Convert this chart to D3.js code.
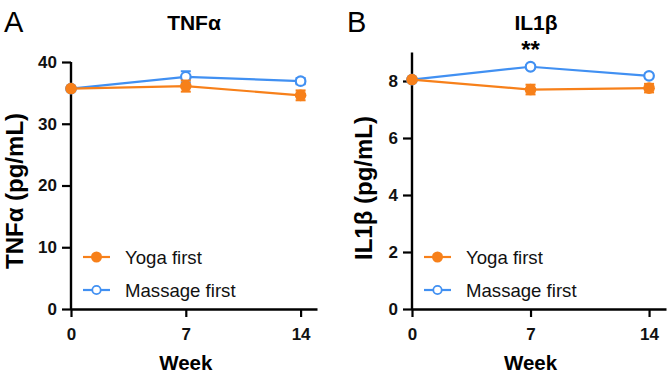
<!DOCTYPE html>
<html>
<head>
<meta charset="utf-8">
<script src="https://cdn.jsdelivr.net/npm/d3@7"></script>
<style>
  body { margin: 0; background: #fff; }
  svg { font-family: "Liberation Sans", Arial, sans-serif; }
</style>
</head>
<body>
<div id="chart"></div>
<script>
// data
var weeks = [0, 7, 14];
var seriesNames = ["Yoga first", "Massage first"];
var tnfYoga = [35.7, 36.1, 34.6];
var tnfYogaErr = [0.3, 0.9, 0.8];
var tnfMassage = [35.7, 37.6, 36.9];
var tnfMassageErr = [0.3, 0.9, 0.5];
var ilYoga = [8.05, 7.7, 7.75];
var ilYogaErr = [0.05, 0.17, 0.15];
var ilMassage = [8.05, 8.5, 8.18];
var ilMassageErr = [0.05, 0.06, 0.08];
var tnfTicks = [0, 10, 20, 30, 40];
var ilTicks = [0, 2, 4, 6, 8];

var orange = "#f7801a";
var blue = "#4190f2";

var svg = d3.select("#chart").append("svg")
  .attr("width", 668)
  .attr("height", 375);

function drawPanel(opt) {
  var x = d3.scaleLinear().domain([0, 15]).range([opt.left, opt.right]);
  var y = d3.scaleLinear().domain(opt.yDomain).range([309, opt.yTop]);
  var g = svg.append("g");

  // y axis
  g.append("g")
    .attr("transform", "translate(" + opt.left + ",0)")
    .call(d3.axisLeft(y).tickValues(opt.yTicks).tickSize(9).tickSizeOuter(0))
    .call(function(a) {
      a.select(".domain").attr("stroke-width", 2.4).attr("d", "M0," + y(opt.yDomain[1]) + "V" + y(0));
      a.selectAll(".tick line").attr("stroke-width", 2.2);
      a.selectAll(".tick text").attr("font-size", 17).attr("font-weight", "bold").attr("x", -14).attr("fill", "#111");
    });

  // x axis
  g.append("g")
    .attr("transform", "translate(0,309)")
    .call(d3.axisBottom(x).tickValues(weeks).tickSize(8).tickSizeOuter(0))
    .call(function(a) {
      a.select(".domain").attr("stroke-width", 2.4);
      a.selectAll(".tick line").attr("stroke-width", 2.2);
      a.selectAll(".tick text").attr("font-size", 17).attr("font-weight", "bold").attr("y", 19).attr("fill", "#111");
    });

  var series = [
    { vals: opt.yoga, err: opt.yogaErr, color: orange, open: false },
    { vals: opt.massage, err: opt.massageErr, color: blue, open: true }
  ];

  var line = d3.line().x(function(d) { return x(d.w); }).y(function(d) { return y(d.v); });

  // massage drawn first so yoga sits on top at week 0
  [series[1], series[0]].forEach(function(s) {
    var pts = weeks.map(function(w, i) { return { w: w, v: s.vals[i], e: s.err[i] }; });
    g.append("path")
      .datum(pts)
      .attr("d", line)
      .attr("fill", "none")
      .attr("stroke", s.color)
      .attr("stroke-width", 2.2);
    var eb = g.selectAll(null).data(pts).enter().append("g");
    eb.append("line")
      .attr("x1", function(d) { return x(d.w); })
      .attr("x2", function(d) { return x(d.w); })
      .attr("y1", function(d) { return y(d.v - d.e); })
      .attr("y2", function(d) { return y(d.v + d.e); })
      .attr("stroke", s.color).attr("stroke-width", 2);
    [-1, 1].forEach(function(sg) {
      eb.append("line")
        .attr("x1", function(d) { return x(d.w) - 5; })
        .attr("x2", function(d) { return x(d.w) + 5; })
        .attr("y1", function(d) { return y(d.v + sg * d.e); })
        .attr("y2", function(d) { return y(d.v + sg * d.e); })
        .attr("stroke", s.color).attr("stroke-width", 2);
    });
    g.selectAll(null).data(pts).enter().append("circle")
      .attr("cx", function(d) { return x(d.w); })
      .attr("cy", function(d) { return y(d.v); })
      .attr("r", s.open ? 4.8 : 5.8)
      .attr("fill", s.open ? "#fff" : s.color)
      .attr("stroke", s.color)
      .attr("stroke-width", s.open ? 2.2 : 0);
  });

  // legend
  seriesNames.forEach(function(name, i) {
    var ly = 257 + i * 33;
    var lx = opt.left + 12;
    g.append("line")
      .attr("x1", lx).attr("x2", lx + 27)
      .attr("y1", ly).attr("y2", ly)
      .attr("stroke", series[i].color).attr("stroke-width", 2.2);
    g.append("circle")
      .attr("cx", lx + 13.5).attr("cy", ly)
      .attr("r", series[i].open ? 4.2 : 5.5)
      .attr("fill", series[i].open ? "#fff" : series[i].color)
      .attr("stroke", series[i].color)
      .attr("stroke-width", series[i].open ? 1.8 : 0);
    g.append("text")
      .attr("x", lx + 42).attr("y", ly + 6.5)
      .attr("font-size", 18.6)
      .attr("fill", "#111")
      .text(name);
  });

  // titles
  g.append("text")
    .attr("x", opt.titleX).attr("y", 30)
    .attr("text-anchor", "middle")
    .attr("font-size", 21).attr("font-weight", "bold")
    .text(opt.title);
  g.append("text")
    .attr("x", opt.letterX).attr("y", 31.5)
    .attr("font-size", 29)
    .text(opt.letter);
  g.append("text")
    .attr("transform", "translate(" + opt.yLabelX + "," + opt.yLabelY + ") rotate(-90)")
    .attr("text-anchor", "middle")
    .attr("font-size", 24).attr("font-weight", "bold")
    .text(opt.yLabel);
  g.append("text")
    .attr("x", x(7)).attr("y", 370)
    .attr("text-anchor", "middle")
    .attr("font-size", 20.5).attr("font-weight", "bold")
    .text("Week");

  if (opt.star) {
    g.append("text")
      .attr("x", x(7)).attr("y", 58)
      .attr("text-anchor", "middle")
      .attr("font-size", 24).attr("font-weight", "bold")
      .text(opt.star);
  }
}

drawPanel({
  left: 71, right: 317, yTop: 62, yDomain: [0, 40], yTicks: tnfTicks,
  yoga: tnfYoga, yogaErr: tnfYogaErr, massage: tnfMassage, massageErr: tnfMassageErr,
  title: "TNF\u03b1", titleX: 194, letter: "A", letterX: 4,
  yLabel: "TNF\u03b1 (pg/mL)", yLabelX: 23, yLabelY: 191
});

drawPanel({
  left: 412, right: 666, yTop: 52.5, yDomain: [0, 9], yTicks: ilTicks,
  yoga: ilYoga, yogaErr: ilYogaErr, massage: ilMassage, massageErr: ilMassageErr,
  title: "IL1\u03b2", titleX: 536, letter: "B", letterX: 347,
  yLabel: "IL1\u03b2 (pg/mL)", yLabelX: 372, yLabelY: 188, star: "**"
});
</script>
</body>
</html>
